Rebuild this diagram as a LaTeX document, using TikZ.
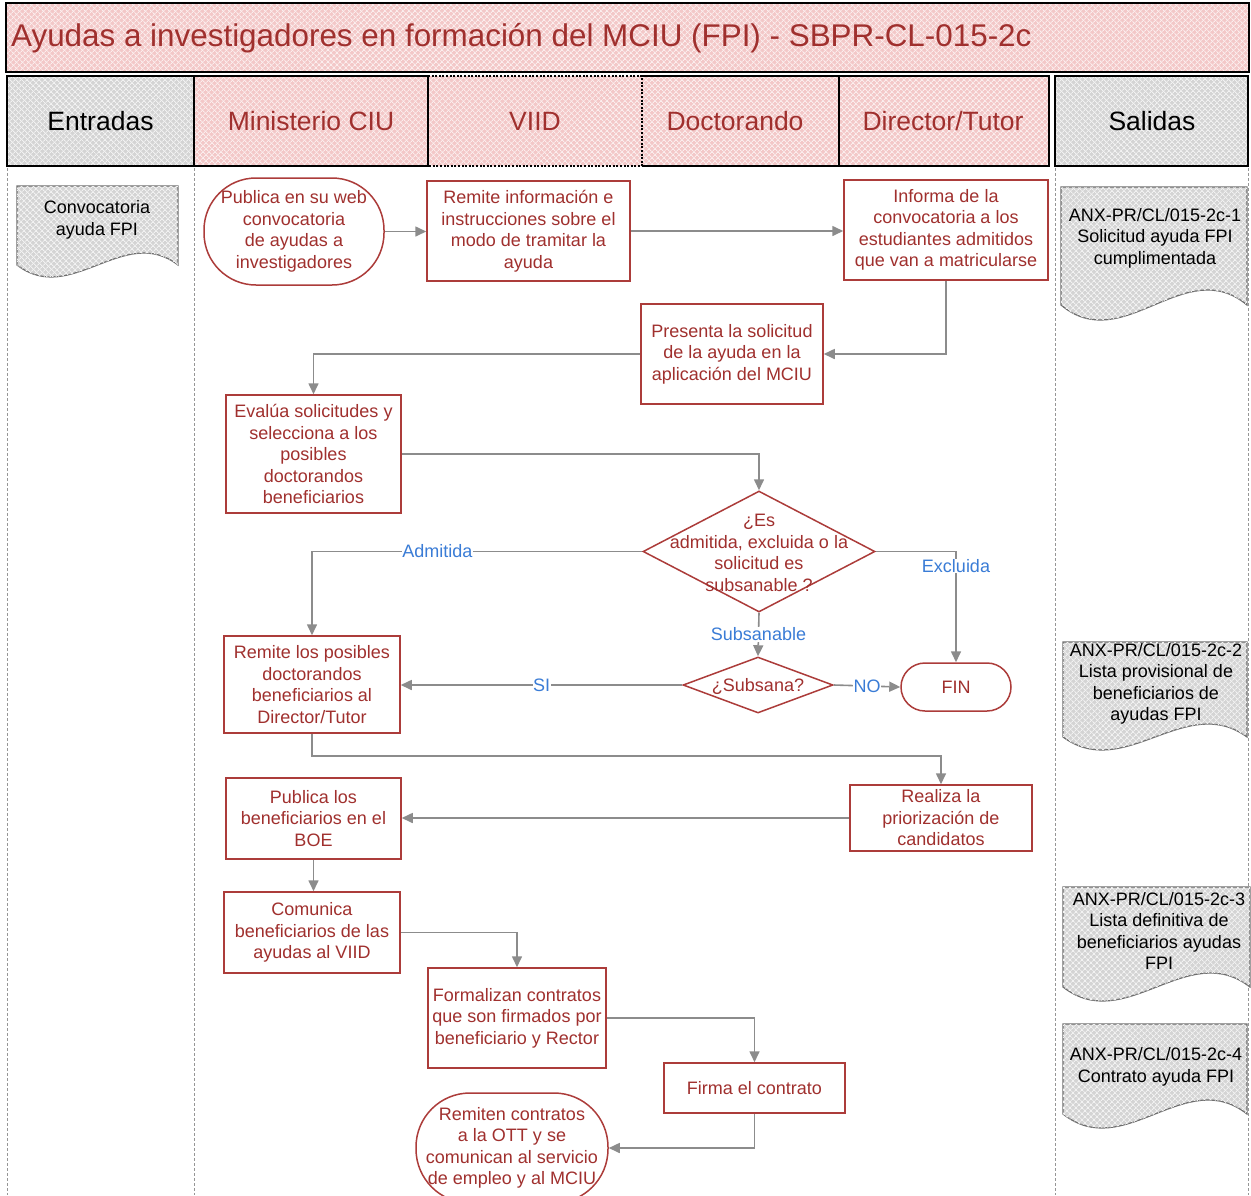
\documentclass[tikz,border=0pt]{standalone}
\usepackage{fontspec}
\setmainfont{Liberation Sans}
\usetikzlibrary{arrows.meta,shapes.geometric,calc,patterns.meta}
\definecolor{boxred}{RGB}{172,60,58}
\definecolor{txtred}{RGB}{160,48,46}
\definecolor{lblue}{RGB}{58,124,214}
\definecolor{arrgrey}{RGB}{140,140,140}
\definecolor{pinkbase}{RGB}{243,200,200}
\definecolor{greybase}{RGB}{212,212,212}
\definecolor{docline}{RGB}{110,110,110}
\definecolor{laneline}{RGB}{150,150,150}
\tikzset{
  pinkfill/.style={fill=pinkbase,
    postaction={pattern={Lines[angle=45,distance=4pt,line width=1pt]},pattern color=white!70!pinkbase},
    postaction={pattern={Lines[angle=-45,distance=4pt,line width=1pt]},pattern color=white!70!pinkbase}},
  greyfill/.style={fill=greybase,
    postaction={pattern={Lines[angle=45,distance=4pt,line width=1pt]},pattern color=white!70!greybase},
    postaction={pattern={Lines[angle=-45,distance=4pt,line width=1pt]},pattern color=white!70!greybase}},
  bodyfont/.style={font=\fontsize{18pt}{21.5pt}\selectfont},
  proc/.style={draw=boxred, line width=1.5pt, fill=white, text=txtred, align=center, bodyfont, inner sep=0pt, rectangle},
  dia/.style={draw=boxred, line width=1.5pt, fill=white, diamond, inner sep=0pt},
  txt/.style={text=txtred, align=center, bodyfont, inner sep=0pt},
  conn/.style={draw=arrgrey, line width=1.6pt, -{Triangle[length=11pt,width=10pt]}},
  lab/.style={text=lblue, fill=white, inner sep=0.5pt, bodyfont},
  docshape/.style={draw=docline, line width=1.2pt, greyfill},
  doctxt/.style={align=center, bodyfont, inner sep=0pt, text=black},
  hdr/.style={font=\fontsize{26.5pt}{30pt}\selectfont, inner sep=0pt},
  hline/.style={draw=black, line width=1.8pt},
  hdot/.style={draw=black, line width=1.6pt, dash pattern=on 2pt off 1.6pt},
  lane/.style={draw=laneline, line width=1pt, dash pattern=on 3pt off 2pt}
}
\begin{document}
\begin{tikzpicture}[x=1pt,y=-1pt]
\useasboundingbox (0,0) rectangle (1251,1195);
\clip (0,0) rectangle (1251,1195);

% title
\path[pinkfill] (6,3) rectangle (1249,72);
\draw[black, line width=2.5pt] (6,3) rectangle (1249,72);
\node[anchor=west, text=txtred, font=\fontsize{31.4pt}{36pt}\selectfont, inner sep=0pt] (title) at (11,38.5) {Ayudas a investigadores en formación del MCIU (FPI) - SBPR-CL-015-2c};

% header
\path[greyfill] (7,76) rectangle (194,166);
\path[pinkfill] (194,76) rectangle (1049,166);
\path[greyfill] (1055,76) rectangle (1248,166);
\draw[hline] (7,76) rectangle (194,166);
\draw[hline] (194,76) rectangle (428,166);
\draw[hdot] (428,76) -- (642,76) -- (642,166) -- (428,166);
\draw[hline] (642,76) -- (839,76) -- (839,166) -- (642,166);
\draw[hline] (839,76) rectangle (1049,166);
\draw[hline] (1055,76) rectangle (1248,166);
\node[hdr, text=black] (hEnt) at (100.5,121) {Entradas};
\node[hdr, text=txtred] (hMin) at (311,121) {Ministerio CIU};
\node[hdr, text=txtred] (hVIID) at (535,121) {VIID};
\node[hdr, text=txtred] (hDoc) at (735,121) {Doctorando};
\node[hdr, text=txtred] (hDir) at (943,121) {Director/Tutor};
\node[hdr, text=black] (hSal) at (1152,121) {Salidas};

% lanes
\draw[lane] (7,168) -- (7,1195);
\draw[lane] (194,168) -- (194,1195);
\draw[lane] (1055,168) -- (1055,1195);
\draw[lane] (1248,168) -- (1248,1195);

% documents
\path[docshape] (17,186) -- (178,186) -- (178,265) .. controls (124.3,223.5) and (70.7,306.5) .. (17,265) -- cycle;
\node[doctxt] (dConv) at (97,220) {Convocatoria\\ayuda FPI};

\path[docshape] (1061,187) -- (1247,187) -- (1247,305) .. controls (1185,253) and (1123,357) .. (1061,305) -- cycle;
\node[doctxt] (dA1) at (1155,238) {ANX-PR/CL/015-2c-1\\Solicitud ayuda FPI\\cumplimentada};

\path[docshape] (1063,642) -- (1247,642) -- (1247,737) .. controls (1185.7,692) and (1124.3,782) .. (1063,737) -- cycle;
\node[doctxt] (dA2) at (1156,684) {ANX-PR/CL/015-2c-2\\Lista provisional de\\beneficiarios de\\ayudas FPI};

\path[docshape] (1063,887) -- (1250,887) -- (1250,987) .. controls (1187.7,938.5) and (1125.3,1035.5) .. (1063,987) -- cycle;
\node[doctxt] (dA3) at (1159,931) {ANX-PR/CL/015-2c-3\\Lista definitiva de\\beneficiarios ayudas\\FPI};

\path[docshape] (1063,1024) -- (1247,1024) -- (1247,1114) .. controls (1185.7,1065.5) and (1124.3,1162.5) .. (1063,1114) -- cycle;
\node[doctxt] (dA4) at (1156,1067) {ANX-PR/CL/015-2c-4\\Contrato ayuda FPI};

% process nodes
\node[proc, rounded corners=52pt, minimum width=180pt, minimum height=107pt] (pub) at (294,231.5) {Publica en su web\\convocatoria\\de ayudas a\\investigadores};
\node[proc, minimum width=203pt, minimum height=100pt] (rem) at (528.5,231) {Remite información e\\instrucciones sobre el\\modo de tramitar la\\ayuda};
\node[proc, minimum width=204pt, minimum height=100pt] (inf) at (946,230) {Informa de la\\convocatoria a los\\estudiantes admitidos\\que van a matricularse};
\node[proc, minimum width=182pt, minimum height=100pt] (pres) at (732,354) {Presenta la solicitud\\de la ayuda en la\\aplicación del MCIU};
\node[proc, minimum width=175pt, minimum height=118pt] (eval) at (313.5,454) {Evalúa solicitudes y\\selecciona a los\\posibles\\doctorandos\\beneficiarios};
\node[dia, minimum width=232pt, minimum height=121pt] (dec) at (759,551.5) {};
\node[txt] (decT) at (759,553) {¿Es\\admitida, excluida o la\\solicitud es\\subsanable ?};
\node[proc, minimum width=176pt, minimum height=97pt] (rlp) at (312,684.5) {Remite los posibles\\doctorandos\\beneficiarios al\\Director/Tutor};
\node[dia, minimum width=150pt, minimum height=56pt] (sub) at (758,685) {};
\node[txt] (subT) at (758,686) {¿Subsana?};
\node[proc, rounded corners=24pt, minimum width=110pt, minimum height=48pt] (fin) at (956,687) {FIN};
\node[proc, minimum width=182pt, minimum height=66pt] (real) at (941,818) {Realiza la\\priorización de\\candidatos};
\node[proc, minimum width=175pt, minimum height=81pt] (boe) at (313.5,818.5) {Publica los\\beneficiarios en el\\BOE};
\node[proc, minimum width=176pt, minimum height=81pt] (com) at (312,932.5) {Comunica\\beneficiarios de las\\ayudas al VIID};
\node[proc, minimum width=178pt, minimum height=100pt] (form) at (517,1018) {Formalizan contratos\\que son firmados por\\beneficiario y Rector};
\node[proc, minimum width=181pt, minimum height=50pt] (firma) at (754.5,1088) {Firma el contrato};
\node[proc, rounded corners=54pt, minimum width=192pt, minimum height=110pt] (remc) at (512,1148) {Remiten contratos\\a la OTT y se\\comunican al servicio\\de empleo y al MCIU};

% connectors
\draw[conn] (pub.east) -- (pub.east -| rem.west);
\draw[conn] (rem.east) -- (rem.east -| inf.west);
\draw[conn] (inf.south) |- (pres.east);
\draw[conn] (pres.west) -| (eval.north);
\draw[conn] (eval.east) -| (dec.north);
\draw[conn] (dec.west) -| node[lab, pos=0.31] {Admitida} (rlp.north);
\draw[conn] (dec.east) -| node[lab, pos=0.565] {Excluida} (fin.north);
\draw[conn] (dec.south) -- node[lab, midway] {Subsanable} (sub.north);
\draw[conn] (sub.west) -- node[lab, midway] {SI} (sub.west -| rlp.east);
\draw[conn] (sub.east) -- node[lab, midway] {NO} (fin.west);
\coordinate (kbend) at ($(real.north)+(0,-28)$);
\draw[conn] (rlp.south) |- (kbend) -- (real.north);
\draw[conn] (real.west) -- (real.west -| boe.east);
\draw[conn] (boe.south) -- (boe.south |- com.north);
\draw[conn] (com.east) -| (form.north);
\draw[conn] (form.east) -| (firma.north);
\draw[conn] (firma.south) |- (remc.east);
\end{tikzpicture}
\end{document}
